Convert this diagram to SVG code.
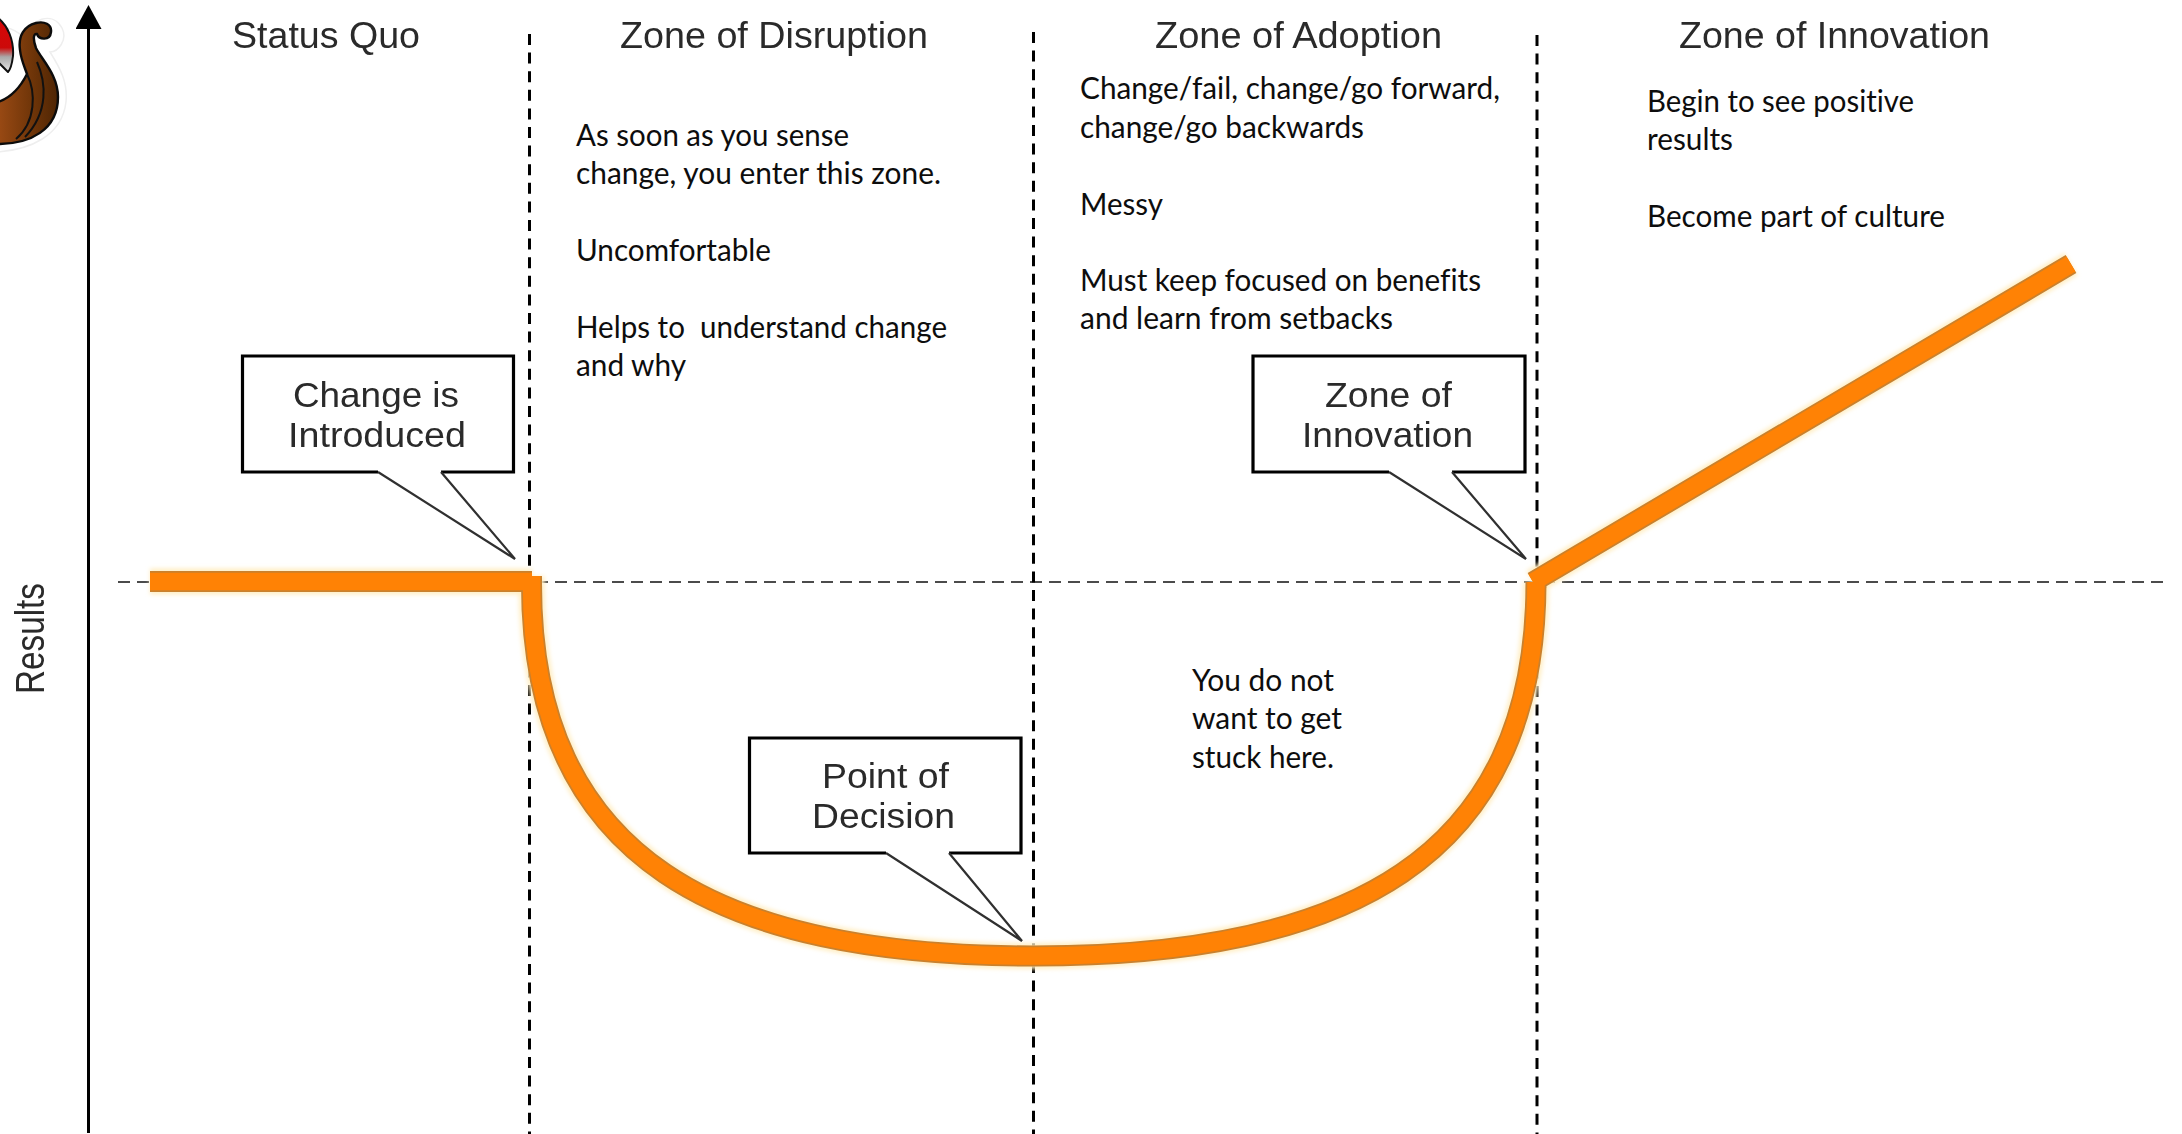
<svg xmlns="http://www.w3.org/2000/svg" width="2182" height="1134" viewBox="0 0 2182 1134">
<style>
.raster{font-family:"Liberation Sans",Arial,sans-serif;fill:#2a2a2a;filter:url(#soft)}
.hd{font-size:36px}
.cl{font-size:35px}
.body{font-family:Lato,"Noto Sans",sans-serif;font-size:31px;fill:#0d0d0d;font-variant-ligatures:none}
.boxline{fill:none;stroke:#000;stroke-width:3.2}
.tail{fill:none;stroke:#303030;stroke-width:2.2}
.vd{stroke:#000;stroke-width:3;stroke-dasharray:11 7.6;fill:none}
.hdash{stroke:#111;stroke-width:1.7;stroke-dasharray:12 7;fill:none}
.curve{fill:none;stroke-linejoin:miter}
</style>
<defs>
<filter id="soft" x="-5%" y="-20%" width="110%" height="140%"><feGaussianBlur stdDeviation="0.6"/></filter>
<filter id="halo" x="-5%" y="-10%" width="110%" height="120%"><feGaussianBlur stdDeviation="2"/></filter>
<filter id="edge" x="-5%" y="-10%" width="110%" height="120%"><feGaussianBlur stdDeviation="0.6"/></filter>
<linearGradient id="sail" x1="0" y1="0" x2="0" y2="1"><stop offset="0" stop-color="#d80606"/><stop offset="0.55" stop-color="#cc0a0a"/><stop offset="0.72" stop-color="#a9a9a9"/><stop offset="1" stop-color="#e8e8e8"/></linearGradient>
<linearGradient id="hull" x1="0" y1="0" x2="1" y2="0"><stop offset="0" stop-color="#9a4a14"/><stop offset="0.6" stop-color="#6d3408"/><stop offset="1" stop-color="#4e2504"/></linearGradient>
<path id="orangePath" d="M150 581.5H532M531.5 576V584C531.5 860 720 956 1033 956C1346 956 1536 860 1536 582V588M1533 582L2071 264"/>
<marker id="axisHead" markerUnits="userSpaceOnUse" markerWidth="28" markerHeight="26" refX="13" refY="24" orient="0"><path d="M13 0L26 24H0Z" fill="#000"/></marker>
</defs>
<rect width="2182" height="1134" fill="#fff"/>

<g id="logo">
<path d="M-4 30C14 22 22 40 26 36C30 20 52 10 62 28C68 40 58 52 50 52C60 68 68 82 66 102C62 136 30 150 -4 152Z" fill="#fff" stroke="#eeeeee" stroke-width="1.5"/>
<path d="M-2 18C8 26 14 40 13 56C12 64 10 70 8 72C4 68 0 64 -2 62Z" fill="url(#sail)" stroke="#111" stroke-width="2"/>
<path d="M-2 144C30 144 58 130 58 97C58 75 42 60 36 48C33 40 33 33 37 34C39 40 50 41 51 32C52 24 44 21 36 23C24 26 18 36 20 50C21 60 25 68 27 74C20 88 10 98 -2 102Z" fill="url(#hull)" stroke="#0c0c0c" stroke-width="2.4"/>
<path d="M37 62C46 82 49 112 25 137M27 74C36 92 36 122 16 139" fill="none" stroke="#111" stroke-width="2"/>
</g>

<g id="connectors">
<path id="axis" d="M88.5 1133V29" stroke="#000" stroke-width="3" fill="none" marker-end="url(#axisHead)"/>
<path id="baseline" class="hdash" d="M118 582H2170"/>
<path id="divider1" class="vd" d="M529.5 34V1134"/>
<path id="divider2" class="vd" d="M1033.5 32V1134"/>
<path id="divider3" class="vd" d="M1537 35V1134"/>
<g id="results-curve" class="curve">
<use href="#orangePath" stroke="#ffeec4" stroke-width="26" filter="url(#halo)"/>
<use href="#orangePath" stroke="#c9812f" stroke-width="21" filter="url(#edge)"/>
<use href="#orangePath" stroke="#ff8205" stroke-width="17.5"/>
</g>
</g>

<g id="label-results"><text class="raster" font-size="41" transform="translate(44 694) rotate(-90)" textLength="111" lengthAdjust="spacingAndGlyphs">Results</text></g>
<g id="zone-status-quo"><text class="raster hd" x="232" y="48" textLength="188" lengthAdjust="spacingAndGlyphs">Status Quo</text></g>
<g id="zone-disruption">
<text class="raster hd" x="620" y="48" textLength="308" lengthAdjust="spacingAndGlyphs">Zone of Disruption</text>
<text class="body" x="576" y="146" textLength="273" lengthAdjust="spacingAndGlyphs">As soon as you sense</text>
<text class="body" x="576" y="183.5" textLength="365" lengthAdjust="spacingAndGlyphs">change, you enter this zone.</text>
<text class="body" x="576" y="260.5" textLength="195" lengthAdjust="spacingAndGlyphs">Uncomfortable</text>
<text class="body" x="576" y="338" textLength="371" lengthAdjust="spacingAndGlyphs" xml:space="preserve">Helps to  understand change</text>
<text class="body" x="576" y="375.5" textLength="110" lengthAdjust="spacingAndGlyphs">and why</text>
</g>
<g id="zone-adoption">
<text class="raster hd" x="1155" y="48" textLength="287" lengthAdjust="spacingAndGlyphs">Zone of Adoption</text>
<text class="body" x="1080" y="99" textLength="420" lengthAdjust="spacingAndGlyphs">Change/fail, change/go forward,</text>
<text class="body" x="1080" y="137.5" textLength="284" lengthAdjust="spacingAndGlyphs">change/go backwards</text>
<text class="body" x="1080" y="214.5" textLength="83" lengthAdjust="spacingAndGlyphs">Messy</text>
<text class="body" x="1080" y="291" textLength="401" lengthAdjust="spacingAndGlyphs">Must keep focused on benefits</text>
<text class="body" x="1080" y="329" textLength="313" lengthAdjust="spacingAndGlyphs">and learn from setbacks</text>
</g>
<g id="zone-innovation">
<text class="raster hd" x="1679" y="48" textLength="311" lengthAdjust="spacingAndGlyphs">Zone of Innovation</text>
<text class="body" x="1647" y="112" textLength="267" lengthAdjust="spacingAndGlyphs">Begin to see positive</text>
<text class="body" x="1647" y="150" textLength="86" lengthAdjust="spacingAndGlyphs">results</text>
<text class="body" x="1647" y="227" textLength="298" lengthAdjust="spacingAndGlyphs">Become part of culture</text>
</g>
<g id="note-stuck">
<text class="body" x="1192" y="691" textLength="142" lengthAdjust="spacingAndGlyphs">You do not</text>
<text class="body" x="1192" y="729" textLength="150" lengthAdjust="spacingAndGlyphs">want to get</text>
<text class="body" x="1192" y="768" textLength="142" lengthAdjust="spacingAndGlyphs">stuck here.</text>
</g>

<g id="callout-change">
<path d="M378 472H242.5V356H513.5V472H441" class="boxline"/>
<path d="M378 472L515 559L441 472" class="tail"/>
<text class="raster cl" x="293" y="407" textLength="166" lengthAdjust="spacingAndGlyphs">Change is</text>
<text class="raster cl" x="288" y="447" textLength="178" lengthAdjust="spacingAndGlyphs">Introduced</text>
</g>
<g id="callout-decision">
<path d="M886 853H749.5V738H1021V853H949" class="boxline"/>
<path d="M886 853L1022 941L949 853" class="tail"/>
<text class="raster cl" x="822" y="788" textLength="127" lengthAdjust="spacingAndGlyphs">Point of</text>
<text class="raster cl" x="812" y="828" textLength="143" lengthAdjust="spacingAndGlyphs">Decision</text>
</g>
<g id="callout-innovation">
<path d="M1389 472H1253V356H1525V472H1452" class="boxline"/>
<path d="M1389 472L1526 559L1452 472" class="tail"/>
<text class="raster cl" x="1325" y="407" textLength="127" lengthAdjust="spacingAndGlyphs">Zone of</text>
<text class="raster cl" x="1302" y="447" textLength="171" lengthAdjust="spacingAndGlyphs">Innovation</text>
</g>
</svg>
